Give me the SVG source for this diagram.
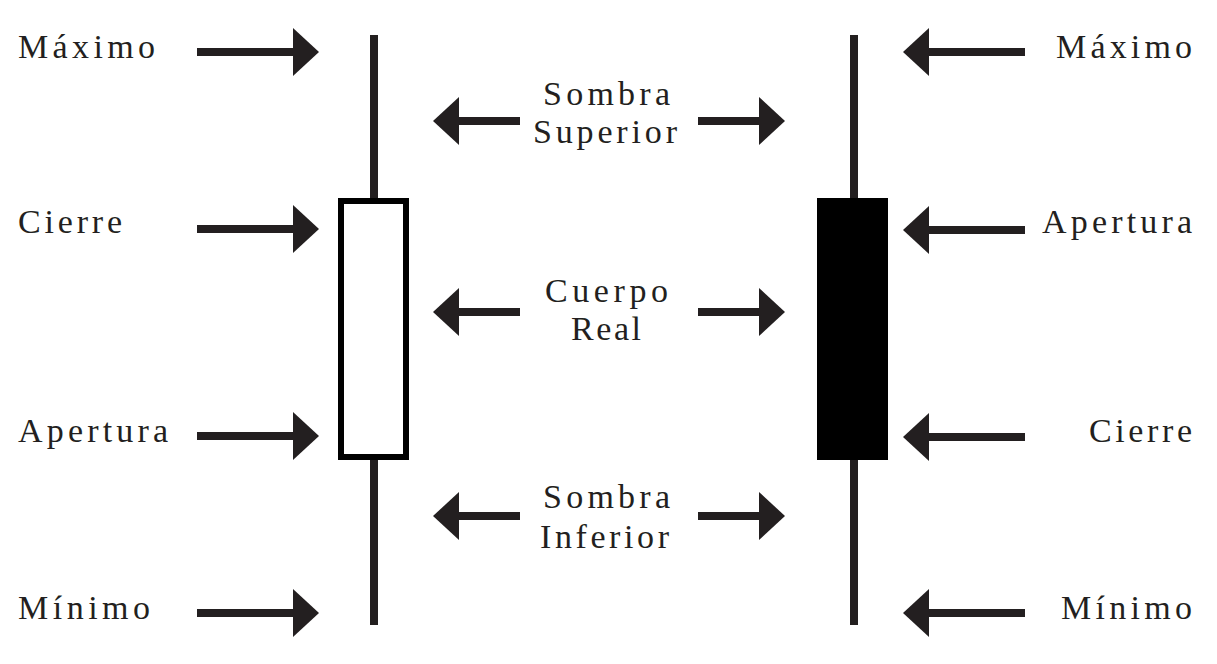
<svg xmlns="http://www.w3.org/2000/svg" width="1217" height="664" viewBox="0 0 1217 664">
<defs>
<marker id="ah" markerUnits="userSpaceOnUse" markerWidth="30" markerHeight="50" refX="0" refY="24" orient="auto" overflow="visible">
<path d="M0,0 L26,24 L0,48 Z" fill="#231f20"/>
</marker>
</defs>
<style>
.t{font-family:"Liberation Serif","Times New Roman",serif;font-size:34px;fill:#231f20}
.l{text-anchor:start}
.a{stroke:#231f20;stroke-width:8;fill:none;marker-end:url(#ah)}
.w{stroke:#231f20;stroke-width:8}
</style>
<rect width="1217" height="664" fill="#fff"/>
<g id="candle-bull">
<line class="w" x1="374" y1="35" x2="374" y2="199"/>
<line class="w" x1="374" y1="458" x2="374" y2="625"/>
<rect x="341" y="201" width="65" height="256" fill="#fff" stroke="#000" stroke-width="6"/>
</g>
<g id="candle-bear">
<line class="w" x1="854" y1="35" x2="854" y2="199"/>
<line class="w" x1="854" y1="459" x2="854" y2="625"/>
<rect x="817" y="198" width="71" height="262" fill="#000"/>
</g>
<g id="connectors">
<line class="a" x1="197" y1="52" x2="293" y2="52"/>
<line class="a" x1="197" y1="229" x2="293" y2="229"/>
<line class="a" x1="197" y1="436" x2="293" y2="436"/>
<line class="a" x1="197" y1="613" x2="293" y2="613"/>
<line class="a" x1="1025" y1="52" x2="929" y2="52"/>
<line class="a" x1="1025" y1="230" x2="929" y2="230"/>
<line class="a" x1="1025" y1="437" x2="929" y2="437"/>
<line class="a" x1="1025" y1="613" x2="929" y2="613"/>
<line class="a" x1="520" y1="121" x2="459" y2="121"/>
<line class="a" x1="698" y1="121" x2="759" y2="121"/>
<line class="a" x1="520" y1="312" x2="459" y2="312"/>
<line class="a" x1="698" y1="312" x2="759" y2="312"/>
<line class="a" x1="520" y1="516" x2="459" y2="516"/>
<line class="a" x1="698" y1="516" x2="759" y2="516"/>
</g>
<g id="labels-left">
<text class="t l" x="18" y="58" textLength="137" lengthAdjust="spacing">Máximo</text>
<text class="t l" x="18" y="233" textLength="104" lengthAdjust="spacing">Cierre</text>
<text class="t l" x="18" y="442" textLength="150" lengthAdjust="spacing">Apertura</text>
<text class="t l" x="18" y="619" textLength="132" lengthAdjust="spacing">Mínimo</text>
</g>
<g id="labels-right">
<text class="t l" x="1056" y="58" textLength="136" lengthAdjust="spacing">Máximo</text>
<text class="t l" x="1042" y="233" textLength="150" lengthAdjust="spacing">Apertura</text>
<text class="t l" x="1089" y="442" textLength="103" lengthAdjust="spacing">Cierre</text>
<text class="t l" x="1061" y="619" textLength="131" lengthAdjust="spacing">Mínimo</text>
</g>
<g id="labels-center">
<text class="t l" x="543" y="105" textLength="127" lengthAdjust="spacing">Sombra</text>
<text class="t l" x="533" y="143" textLength="144" lengthAdjust="spacing">Superior</text>
<text class="t l" x="545" y="302" textLength="123" lengthAdjust="spacing">Cuerpo</text>
<text class="t l" x="571" y="340" textLength="70" lengthAdjust="spacing">Real</text>
<text class="t l" x="543" y="508" textLength="127" lengthAdjust="spacing">Sombra</text>
<text class="t l" x="540" y="548" textLength="129" lengthAdjust="spacing">Inferior</text>
</g>
</svg>
